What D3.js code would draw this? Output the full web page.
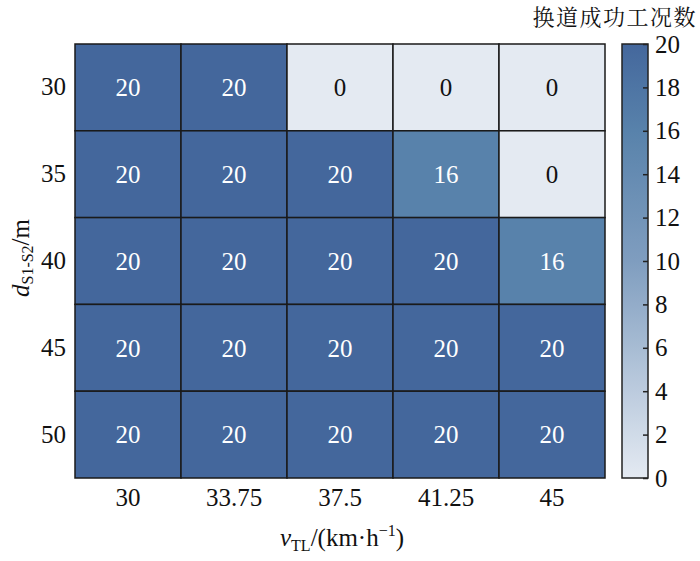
<!DOCTYPE html>
<html><head><meta charset="utf-8">
<script src="https://cdn.jsdelivr.net/npm/d3@7"></script>
<style>body{margin:0;background:#fff}svg{display:block}</style>
</head><body><svg id="c" width="700" height="561"></svg>
<script>
const xCategories = ["30","33.75","37.5","41.25","45"];
const yCategories = ["30","35","40","45","50"];
const values = [
  [20,20,0,0,0],
  [20,20,20,16,0],
  [20,20,20,20,16],
  [20,20,20,20,20],
  [20,20,20,20,20]
];
const colorbarTicks = [0,2,4,6,8,10,12,14,16,18,20];
const titleText = "换道成功工况数";

const svg = d3.select("#c");
const serif = "'Liberation Serif','Times New Roman',serif";
const FS = 25;
const L=75,R=605,T=44,B=478;
const x = d3.scaleBand().domain(xCategories).range([L,R]);
const y = d3.scaleBand().domain(yCategories).range([T,B]);
const color = d3.scaleLinear().domain([0,10,16,20]).range(["#e4eaf2","#7f9dbf","#5882ab","#44679c"]).interpolate(d3.interpolateRgb);

const cells=[];
values.forEach((row,i)=>row.forEach((v,j)=>cells.push({r:yCategories[i],c:xCategories[j],v})));
svg.append("g").selectAll("rect").data(cells).join("rect")
  .attr("x",d=>x(d.c)).attr("y",d=>y(d.r)).attr("width",x.bandwidth()).attr("height",y.bandwidth())
  .attr("fill",d=>color(d.v)).attr("stroke","#1a1a1a").attr("stroke-width",1.5);
svg.append("g").selectAll("text").data(cells).join("text")
  .attr("x",d=>x(d.c)+x.bandwidth()/2).attr("y",d=>y(d.r)+y.bandwidth()/2)
  .attr("dy","0.35em").attr("text-anchor","middle")
  .attr("font-family",serif).attr("font-size",FS)
  .attr("fill",d=>d.v>8?"#ffffff":"#111111").text(d=>d.v);

// axes
const xa = svg.append("g").attr("transform",`translate(0,${B})`).call(d3.axisBottom(x).tickSize(0).tickPadding(10));
const ya = svg.append("g").attr("transform",`translate(${L},0)`).call(d3.axisLeft(y).tickSize(0).tickPadding(9));
[xa,ya].forEach(a=>{a.select(".domain").remove();a.selectAll("text").attr("font-family",serif).attr("font-size",FS).attr("fill","#111");});

// axis labels
const xl = svg.append("text").attr("x",342).attr("y",546).attr("text-anchor","middle")
  .attr("font-family",serif).attr("font-size",FS).attr("fill","#111");
xl.append("tspan").attr("font-style","italic").text("v");
xl.append("tspan").attr("font-size",16).attr("dy",5).text("TL");
xl.append("tspan").attr("dy",-5).text("/(km·h");
xl.append("tspan").attr("font-size",16).attr("dy",-10).text("−1");
xl.append("tspan").attr("dy",10).text(")");

const yl = svg.append("text").attr("transform","translate(29,258) rotate(-90)").attr("text-anchor","middle")
  .attr("font-family",serif).attr("font-size",FS).attr("fill","#111");
yl.append("tspan").attr("font-style","italic").text("d");
yl.append("tspan").attr("font-size",16).attr("dy",4).text("S1-S2");
yl.append("tspan").attr("dy",-4).text("/m");

// colorbar
const cbx=622, cbw=26;
const cy = d3.scaleLinear().domain([0,20]).range([B,T]);
const defs = svg.append("defs");
const grad = defs.append("linearGradient").attr("id","g").attr("x1",0).attr("y1",1).attr("x2",0).attr("y2",0);
d3.range(0,21,1).forEach(v=>grad.append("stop").attr("offset",v/20).attr("stop-color",color(v)));
svg.append("rect").attr("x",cbx).attr("y",T).attr("width",cbw).attr("height",B-T).attr("fill","url(#g)")
  .attr("stroke","#222").attr("stroke-width",1.5);
const ca = svg.append("g").attr("transform",`translate(${cbx+cbw},0)`)
  .call(d3.axisRight(cy).tickValues(colorbarTicks).tickSize(0).tickPadding(7));
ca.select(".domain").remove();
ca.selectAll("text").attr("font-family",serif).attr("font-size",FS).attr("fill","#111");
ca.selectAll(".tick").append("line").attr("x1",-5).attr("x2",0).attr("stroke","#222").attr("stroke-width",1.5);

svg.append("text").attr("x",697).attr("y",25).attr("text-anchor","end").attr("letter-spacing",1.5)
  .attr("font-family","'Noto Serif CJK SC','Noto Sans CJK SC',sans-serif").attr("font-size",22).attr("fill","#111").text(titleText);
</script></body></html>
